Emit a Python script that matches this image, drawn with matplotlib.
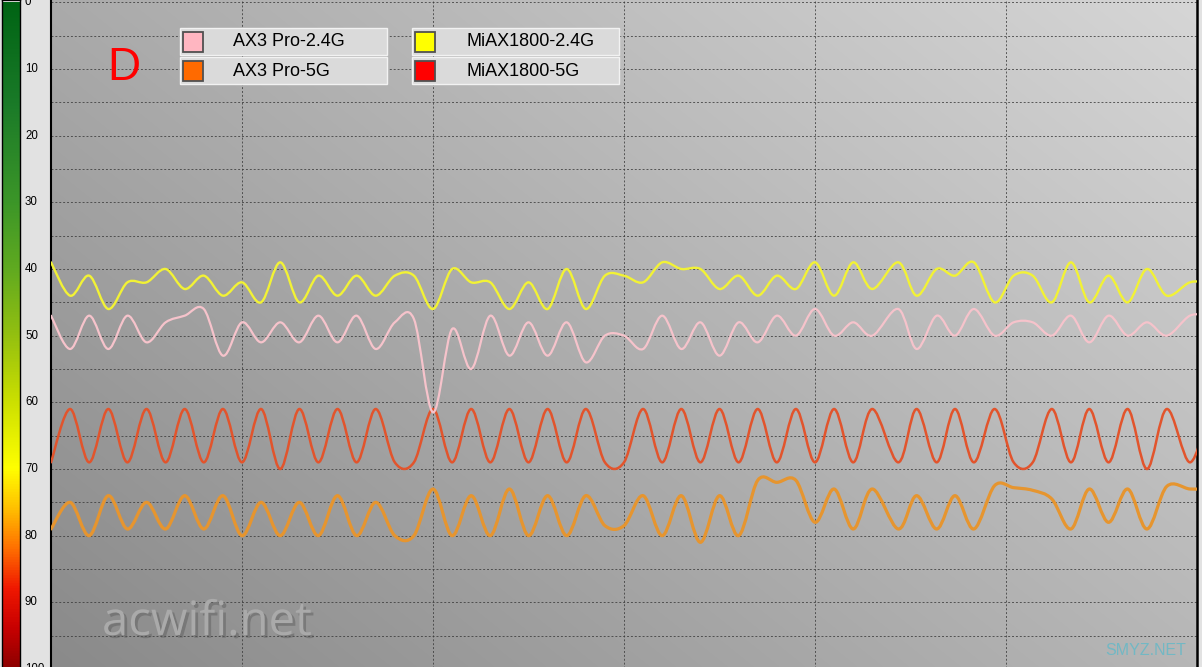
import numpy as np
import matplotlib
matplotlib.use("Agg")
import matplotlib.pyplot as plt
from matplotlib.path import Path
from matplotlib.patches import PathPatch, Rectangle
from matplotlib.colors import LinearSegmentedColormap
import matplotlib.patheffects as pe

# ---------------- data ----------------
t = list(range(44)) + [44.36, 45.32, 46.37, 47.33, 48.32, 49.4, 50.4, 51.4, 52.4,
                       53.4, 54.36, 55.37, 56.37, 57.38, 58.42, 59.63, 60.63]

ax3_24 = [47, 52, 47, 52, 47, 51, 48, 47, 46, 53,
          48, 51, 48, 51, 47, 51, 47, 52, 48, 47.5,
          61.5, 49, 55, 47, 53, 48, 53, 48, 54, 50,
          50, 52, 47, 52, 48, 53, 48, 51, 47, 50,
          46, 50, 48, 50, 46, 52, 47, 50, 46, 50,
          48, 48, 50, 47, 51, 47, 50, 48, 50, 47,
          47]
mi_24 = [39, 44, 41, 46, 42, 42, 40, 43, 41, 44,
         42, 45, 39, 45, 41, 44, 41, 44, 41, 41,
         46, 40, 42, 42, 46, 42, 46, 40, 46, 41,
         41, 42, 39, 40, 40, 43, 41, 44, 41, 43,
         39, 44, 39, 43, 39, 44, 40, 41, 39, 45,
         41, 41, 45, 39, 45, 41, 45, 40, 44, 42,
         42]
mi_5 = [69, 61, 69, 61, 69, 61, 69, 61, 69, 61,
        69, 61, 70, 61, 69, 61, 69, 61, 69, 69,
        61, 69, 61, 69, 61, 69, 61, 69, 61, 69,
        69, 61, 69, 61, 69, 61, 69, 61, 69, 61,
        69, 61, 69, 61, 69, 61, 69, 61, 69, 61,
        69, 69, 61, 69, 61, 69, 61, 70, 61, 69,
        61]
ax3_5 = [79, 75, 80, 74, 79, 75, 79, 74, 79, 74,
         80, 75, 80, 75, 80, 74, 80, 75, 80, 80,
         73, 80, 74, 80, 73, 80, 74, 80, 74, 78.5,
         78.5, 74, 80, 74, 81, 74, 80, 71.7, 72, 71.7,
         78, 73, 79, 73, 79, 74, 79, 74, 79, 72.5,
         72.8, 73.2, 74.5, 79, 73, 78, 73, 79, 72.6, 73,
         73]

legend_labels = ["AX3 Pro-2.4G", "AX3 Pro-5G", "MiAX1800-2.4G", "MiAX1800-5G"]
legend_colors = ["#ffb6c1", "#ff6a00", "#ffff00", "#ff0000"]
y_ticks = list(range(0, 101, 10))

# ---------------- figure ----------------
W, H = 1202, 667
fig = plt.figure(figsize=(W / 100, H / 100), dpi=100, facecolor="#e2e2e2")


def rect(x0, y0, x1, y1):
    return [x0 / W, 1 - y1 / H, (x1 - x0) / W, (y1 - y0) / H]


ax = fig.add_axes(rect(51, 0, 1197, 669))
ax.set_xlim(0, 60)
ax.set_ylim(100, -0.35)

# gradient background
nx, ny = 200, 120
X, Y = np.meshgrid(np.linspace(0, 1, nx), np.linspace(0, 1, ny))
g = (138 + 44 * X + 32 * Y) / 255.0
ax.imshow(np.dstack([g, g, g]), extent=(0, 1, 0, 1), transform=ax.transAxes,
          origin="lower", aspect="auto", zorder=0, interpolation="bilinear")

ax.set_yticks(np.arange(0, 101, 5))
ax.set_xticks(np.arange(0, 61, 10))
ax.tick_params(length=0, labelleft=False, labelbottom=False)
ax.grid(True, color="#3a3a3a", linestyle=(0, (2, 2)), linewidth=0.7, alpha=0.8, zorder=1)
ax.set_axisbelow(True)
for s in ["top", "bottom"]:
    ax.spines[s].set_visible(False)
ax.spines["left"].set_linewidth(1.5)
ax.spines["right"].set_linewidth(1.8)


def spline_path(xs, ys):
    P = np.column_stack([xs, ys]).astype(float)
    n = len(P)
    verts = [P[0]]
    codes = [Path.MOVETO]
    for i in range(n - 1):
        p0 = P[i - 1] if i > 0 else P[i]
        p1 = P[i]
        p2 = P[i + 1]
        p3 = P[i + 2] if i + 2 < n else P[i + 1]
        verts += [p1 + (p2 - p0) / 6.0, p2 - (p3 - p1) / 6.0, p2]
        codes += [Path.CURVE4] * 3
    return Path(verts, codes)


series = [
    (ax3_5, "#e6952f", 2.3),
    (mi_5, "#e2542c", 1.8),
    (mi_24, "#f2f235", 1.7),
    (ax3_24, "#f6c3cb", 1.6),
]
for vals, col, lw in series:
    patch = PathPatch(spline_path(t, vals), facecolor="none", edgecolor=col,
                      linewidth=lw, zorder=3, capstyle="round", joinstyle="round")
    ax.add_patch(patch)

# y labels
for v in y_ticks:
    ax.text((25 - 51) / 1146, v, str(v), transform=ax.get_yaxis_transform(),
            ha="left", va="center", fontsize=8.3, family="Liberation Sans",
            color="black", clip_on=False)

# colour bar on the left
cax = fig.add_axes(rect(2, 0, 20, 669))
cmap = LinearSegmentedColormap.from_list("sig", [
    (0.00, "#006414"), (0.15, "#1a7a28"), (0.30, "#3c9628"), (0.40, "#60aa20"),
    (0.50, "#94c010"), (0.60, "#cce000"), (0.70, "#ffff00"), (0.76, "#ffc000"),
    (0.82, "#ff7000"), (0.88, "#f01800"), (0.94, "#c80000"), (1.00, "#8c0000")])
cax.imshow(np.linspace(0, 100, 512).reshape(-1, 1), cmap=cmap, aspect="auto",
           extent=(0, 1, 100, 0), origin="upper", vmin=0, vmax=100)
cax.set_ylim(100, -0.35)
cax.set_xlim(0, 1)
cax.set_xticks([])
cax.set_yticks([])
for s in cax.spines.values():
    s.set_linewidth(1.0)
    s.set_color("black")

# overlay in pixel coordinates for legend / annotations
ov = fig.add_axes([0, 0, 1, 1], zorder=5)
ov.set_xlim(0, W)
ov.set_ylim(H, 0)
ov.axis("off")
ov.patch.set_alpha(0)

boxes = [(180, 387, 183, 233), (412, 619, 415, 466)]
rows = [(28, 55), (57, 84)]
k = 0
for (bx0, bx1, sx, tx) in boxes:
    for (ry0, ry1) in rows:
        ov.add_patch(Rectangle((bx0, ry0), bx1 - bx0, ry1 - ry0, facecolor="#dadada",
                               edgecolor="#f2f2f2", linewidth=1.0))
        cy = (ry0 + ry1) / 2
        ov.add_patch(Rectangle((sx, cy - 10), 20, 20, facecolor=legend_colors[k],
                               edgecolor="#505050", linewidth=1.3))
        ov.text(tx, cy + 0.5, legend_labels[k], ha="left", va="center", fontsize=13,
                family="Liberation Sans", color="black")
        k += 1

ov.text(107, 80, "D", color="#ff0000", fontsize=33, family="Liberation Sans",
        ha="left", va="baseline")

ov.text(102, 635, "acwifi.net", color="#aaaaaa", fontsize=34, family="Open Sans",
        ha="left", va="baseline",
        path_effects=[pe.withSimplePatchShadow(offset=(2, -2), shadow_rgbFace="#5a5a5a", alpha=0.45)])
ov.text(1105, 655, "SMYZ.NET", color="#72b8c4", fontsize=11.5,
        family="Liberation Sans", ha="left", va="baseline")

fig.savefig("out.png", dpi=100, facecolor=fig.get_facecolor())
